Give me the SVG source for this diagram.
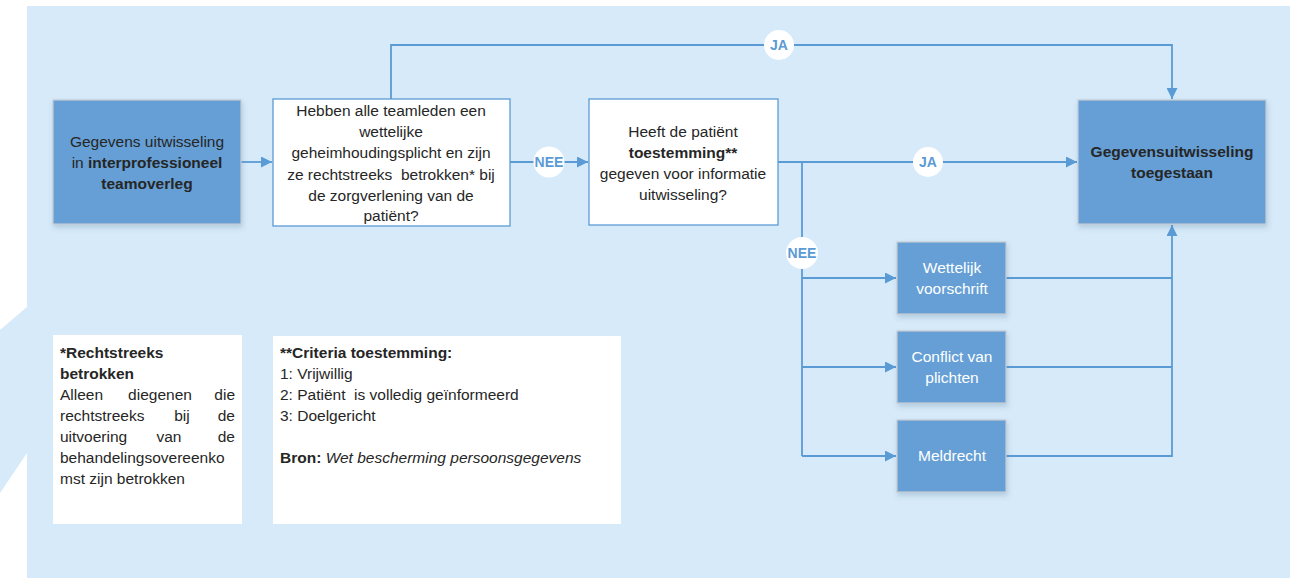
<svg xmlns="http://www.w3.org/2000/svg" width="1293" height="578" viewBox="0 0 1293 578">
<style>
text{font-family:"Liberation Sans",Arial,sans-serif;font-size:15.5px;fill:#262626}
.c{text-anchor:middle}
.e{text-anchor:end}
.b{font-weight:bold}
.w{fill:#ffffff}
.dark{fill:#659fd5;stroke:#c3cbd3;stroke-width:1.2}
.q{fill:#ffffff;stroke:#5b9bd5;stroke-width:1.3}
.note{fill:#ffffff}
.ln{fill:none;stroke:#5b9bd5;stroke-width:1.8}
.lab{fill:#ffffff}
.lt{font-weight:bold;fill:#5b9bd5;font-size:14px;text-anchor:middle}
</style>
<defs>
<marker id="ah" viewBox="0 0 10 10" refX="10" refY="5" markerWidth="11" markerHeight="11" markerUnits="userSpaceOnUse" orient="auto">
<path d="M0,0 L10,5 L0,10 z" fill="#5b9bd5"/>
</marker>
<filter id="sh" x="-10%" y="-10%" width="125%" height="130%">
<feDropShadow dx="1" dy="3" stdDeviation="2.5" flood-color="#4a6f94" flood-opacity="0.25"/>
</filter>
</defs>
<rect x="0" y="0" width="1293" height="578" fill="#ffffff"/>
<rect x="27" y="6" width="1263" height="572" fill="#d6eaf9"/>
<polygon points="27,307 0,330 0,493 27,453" fill="#d6eaf9"/>

<g id="connectors">
<path class="ln" d="M241,162 H272" marker-end="url(#ah)"/>
<path class="ln" d="M510,162 H588" marker-end="url(#ah)"/>
<path class="ln" d="M391,99 V45 H1172 V99" marker-end="url(#ah)"/>
<path class="ln" d="M778,162 H1077" marker-end="url(#ah)"/>
<path class="ln" d="M778,162 H802 V456"/>
<path class="ln" d="M802,278 H896" marker-end="url(#ah)"/>
<path class="ln" d="M802,367 H896" marker-end="url(#ah)"/>
<path class="ln" d="M802,456 H896" marker-end="url(#ah)"/>
<path class="ln" d="M1006,278 H1172"/>
<path class="ln" d="M1006,367 H1172"/>
<path class="ln" d="M1006,456 H1172 V225" marker-end="url(#ah)"/>
<circle class="lab" cx="549" cy="162" r="15.5"/>
<text class="lt" x="549" y="167">NEE</text>
<circle class="lab" cx="779" cy="45" r="15"/>
<text class="lt" x="779" y="50">JA</text>
<circle class="lab" cx="928" cy="162" r="15"/>
<text class="lt" x="928" y="167">JA</text>
<circle class="lab" cx="802" cy="253" r="16"/>
<text class="lt" x="802" y="258">NEE</text>
</g>

<g id="start">
<rect class="dark" x="53" y="100" width="188" height="124" filter="url(#sh)"/>
<text class="c" x="147" y="147">Gegevens uitwisseling</text>
<text class="c" x="147" y="168">in <tspan class="b">interprofessioneel</tspan></text>
<text class="c b" x="147" y="189">teamoverleg</text>
</g>

<g id="vraag1">
<rect class="q" x="273" y="99" width="237" height="127"/>
<text class="c" x="391" y="116">Hebben alle teamleden een</text>
<text class="c" x="391" y="137">wettelijke</text>
<text class="c" x="391" y="158">geheimhoudingsplicht en zijn</text>
<text class="c" x="391" y="180" xml:space="preserve">ze rechtstreeks  betrokken* bij</text>
<text class="c" x="391" y="201">de zorgverlening van de</text>
<text class="c" x="391" y="221">patiënt?</text>
</g>

<g id="vraag2">
<rect class="q" x="589" y="99" width="189" height="126"/>
<text class="c" x="683" y="137">Heeft de patiënt</text>
<text class="c b" x="683" y="158">toestemming**</text>
<text class="c" x="683" y="179">gegeven voor informatie</text>
<text class="c" x="683" y="200">uitwisseling?</text>
</g>

<g id="toegestaan">
<rect class="dark" x="1078" y="100" width="188" height="124" filter="url(#sh)"/>
<text class="c b" x="1172" y="157">Gegevensuitwisseling</text>
<text class="c b" x="1172" y="178">toegestaan</text>
</g>

<g id="wettelijk">
<rect class="dark" x="897" y="242" width="109" height="72" filter="url(#sh)"/>
<text class="c w" x="952" y="273">Wettelijk</text>
<text class="c w" x="952" y="294">voorschrift</text>
</g>

<g id="conflict">
<rect class="dark" x="897" y="331" width="109" height="72" filter="url(#sh)"/>
<text class="c w" x="952" y="362">Conflict van</text>
<text class="c w" x="952" y="383">plichten</text>
</g>

<g id="meldrecht">
<rect class="dark" x="897" y="420" width="109" height="72" filter="url(#sh)"/>
<text class="c w" x="952" y="461">Meldrecht</text>
</g>

<g id="noot1">
<rect class="note" x="53" y="335" width="189" height="189"/>
<text class="b" x="60" y="358">*Rechtstreeks</text>
<text class="b" x="60" y="379">betrokken</text>
<text x="60" y="400">Alleen</text><text class="c" x="160" y="400">diegenen</text><text class="e" x="235" y="400">die</text>
<text x="60" y="421">rechtstreeks</text><text class="c" x="182" y="421">bij</text><text class="e" x="235" y="421">de</text>
<text x="60" y="442">uitvoering</text><text class="c" x="169" y="442">van</text><text class="e" x="235" y="442">de</text>
<text x="60" y="463">behandelingsovereenko</text>
<text x="60" y="484">mst zijn betrokken</text>
</g>

<g id="noot2">
<rect class="note" x="273" y="336" width="348" height="188"/>
<text class="b" x="280" y="358">**Criteria toestemming:</text>
<text x="280" y="379">1: Vrijwillig</text>
<text x="280" y="400" xml:space="preserve">2: Patiënt  is volledig geïnformeerd</text>
<text x="280" y="421">3: Doelgericht</text>
<text x="280" y="463"><tspan class="b">Bron:</tspan> <tspan font-style="italic">Wet bescherming persoonsgegevens</tspan></text>
</g>
</svg>
